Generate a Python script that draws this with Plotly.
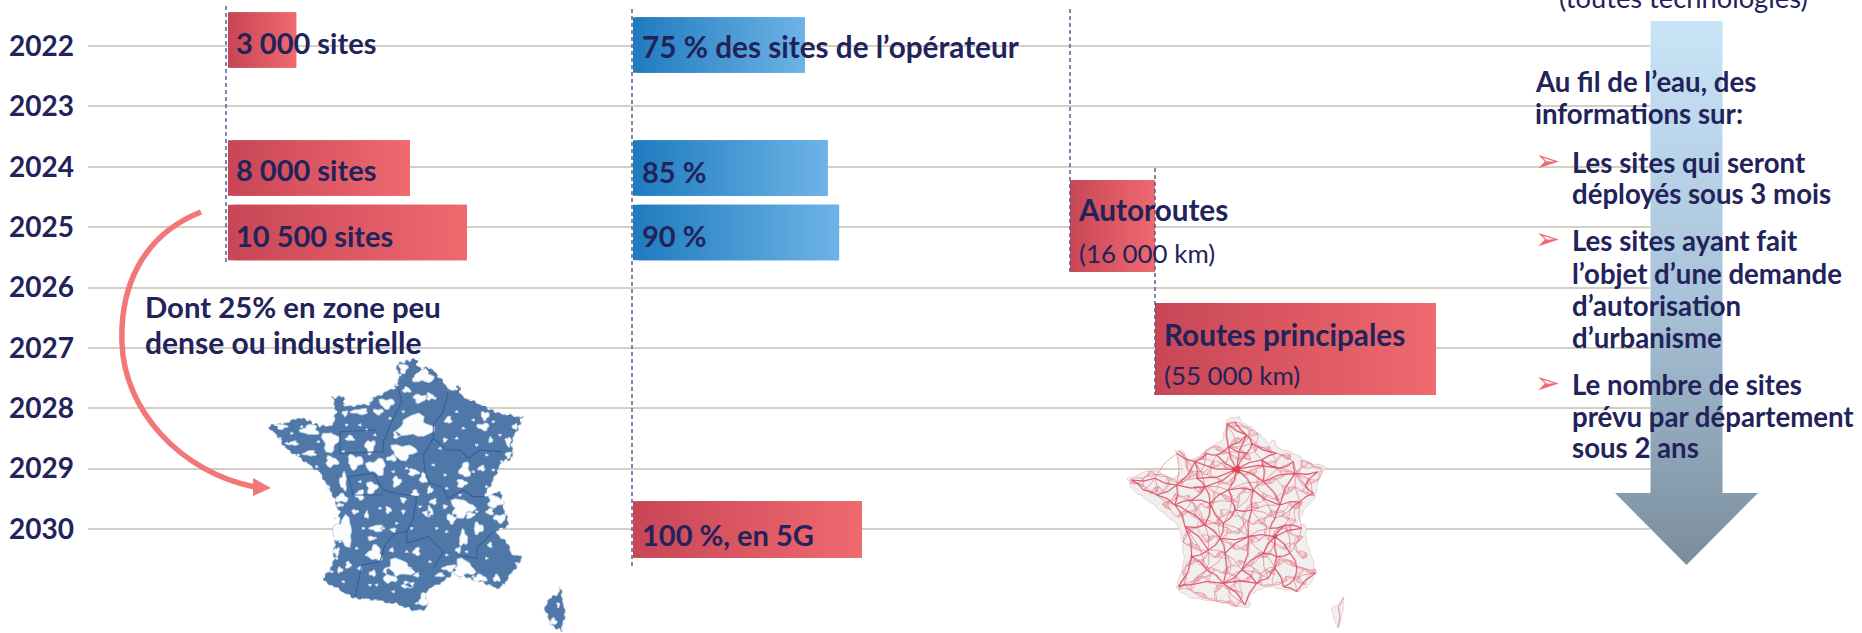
import math
import plotly.graph_objects as go

W, H = 1862, 633

# ---------- data ----------
years = [2022, 2023, 2024, 2025, 2026, 2027, 2028, 2029, 2030]
year_labels = [str(y) for y in years]

sites_values = [3000, 8000, 10500]
sites_labels = ["3 000 sites", "8 000 sites", "10 500 sites"]
share_values = [75, 85, 90]
share_labels = ["75 % des sites de l’opérateur", "85 %", "90 %"]
final_share_value = [100]
final_share_label = ["100 %, en 5G"]
motorway_km = [16000]
main_road_km = [55000]

side_title = "(toutes technologies)"
side_intro = ["Au fil de l’eau, des", "informations sur:"]
side_bullets = [
    ["Les sites qui seront", "déployés sous 3 mois"],
    ["Les sites ayant fait", "l’objet d’une demande", "d’autorisation", "d’urbanisme"],
    ["Le nombre de sites", "prévu par département", "sous 2 ans"],
]

# ---------- layout constants ----------
NAVY = "#22235a"
GRID = "#d5cfc3"
RED = ("#c84656", "#ef6a6f")
BLUE = ("#1f7bbf", "#6db3e6")
FONT = "Lato"
Y_TOP, Y_STEP = 46, 60.375
Y_RANGE = [2022 + (H - Y_TOP) / Y_STEP, 2022 - Y_TOP / Y_STEP]


def pxy(year_px):
    return 2022 + (year_px - Y_TOP) / Y_STEP


def mix(c0, c1, t):
    a = [int(c0[i:i + 2], 16) for i in (1, 3, 5)]
    b = [int(c1[i:i + 2], 16) for i in (1, 3, 5)]
    return "rgb(%d,%d,%d)" % tuple(round(p + (q - p) * t) for p, q in zip(a, b))


fig = go.Figure()
fig.add_trace(go.Scatter(x=[0], y=[years[0]], mode="none", hoverinfo="skip", showlegend=False, xaxis="x", yaxis="y"))


def grad_bar(axis, centre, value, width, colors, n=40):
    # each slice overlaps the next one, which paints over it: no seams
    step = value / n
    fig.add_trace(go.Bar(
        orientation="h", x=[min(2 * step, value - i * step) for i in range(n)], base=[i * step for i in range(n)],
        y=[centre] * n, width=width,
        marker=dict(color=[mix(colors[0], colors[1], (i + .5) / n) for i in range(n)], line=dict(width=0)),
        hoverinfo="skip", showlegend=False, xaxis=axis, yaxis="y2"))


for centre, v in zip([pxy(40), pxy(168), pxy(232.5)], sites_values):
    grad_bar("x2", centre, v, 0.92, RED)
for centre, v in zip([pxy(45), pxy(168), pxy(232.5)], share_values):
    grad_bar("x3", centre, v, 0.92, BLUE)
grad_bar("x3", pxy(529.5), final_share_value[0], 0.94, RED)
grad_bar("x4", pxy(226), motorway_km[0], 1.52, RED)
grad_bar("x5", pxy(349), main_road_km[0], 1.52, RED)

arrow_half, head_half = 36, 71.5
ay0, ay1, ay2 = pxy(21), pxy(493), pxy(565)
fig.add_trace(go.Scatter(
    x=[-arrow_half, arrow_half, arrow_half, head_half, 0, -head_half, -arrow_half, -arrow_half],
    y=[ay0, ay0, ay1, ay1, ay2, ay1, ay1, ay0],
    mode="lines", line=dict(width=0), fill="toself",
    fillgradient=dict(type="vertical", colorscale=[[0, "#7a8d9c"], [.5, "#a9c4da"], [1, "#c9e4f7"]]),
    hoverinfo="skip", showlegend=False, xaxis="x6", yaxis="y2"))

shapes = []


def P(x, y):
    return f"{x / W:.5f},{1 - y / H:.5f}"


def poly(points):
    return "M" + "L".join(P(x, y) for x, y in points) + "Z"


def add_path(path, fill=None, line=None, lw=0, opacity=1, dash=None):
    d = dict(type="path", xref="paper", yref="paper", path=path, layer="above", opacity=opacity,
             line=dict(color=line or "rgba(0,0,0,0)", width=lw))
    if dash:
        d["line"]["dash"] = dash
    if fill:
        d["fillcolor"] = fill
    shapes.append(d)


for x0, y0, y1 in [(226, 6, 262), (632, 9, 568), (1070, 9, 273), (1155, 168, 395)]:
    add_path("M" + P(x0, y0) + "L" + P(x0, y1), line="#5d5c8c", lw=1.5, dash="4px,3px")

add_path("M" + P(201, 212) + "C" + P(140, 236) + " " + P(120, 290) + " " + P(122, 343) +
         "C" + P(124, 410) + " " + P(180, 472) + " " + P(255, 487), line="#f27878", lw=5.5)
add_path(poly([(253, 478), (271, 488), (253, 496)]), fill="#f27878")


def ragged(points, amp=5):
    out = []
    n = len(points)
    for i, (x0, y0) in enumerate(points):
        x1, y1 = points[(i + 1) % n]
        dx, dy = x1 - x0, y1 - y0
        L = math.hypot(dx, dy) or 1
        s = amp * (1 if i % 2 else -1)
        out.append((x0, y0))
        out.append((x0 + dx * .33 - dy / L * s, y0 + dy * .33 + dx / L * s))
        out.append((x0 + dx * .66 + dy / L * s * .7, y0 + dy * .66 - dx / L * s * .7))
    return out


# ---------- blue map (hand-traced) ----------
bx = lambda p: [(260 + a / 3, 355 + b / 3) for a, b in p]
blue_outline = [(410,30),(440,15),(468,12),(475,35),(510,40),(550,75),(565,105),(585,105),(595,90),(605,120),(660,150),(700,165),(730,180),(790,185),(775,215),(760,250),(755,310),(730,320),(700,370),(675,425),(720,410),(730,440),(745,510),(710,530),(745,570),(755,595),(785,605),(770,640),(720,700),(680,690),(630,670),(590,650),(560,670),(500,710),(500,760),(460,770),(410,745),(330,735),(290,730),(250,715),(190,675),(215,630),(225,570),(235,510),(240,470),(215,420),(180,350),(130,320),(80,280),(50,245),(25,215),(60,205),(120,190),(150,195),(180,215),(215,210),(230,170),(215,125),(250,125),(255,150),(330,150),(340,125),(405,100),(415,70)]
blue_corsica = [(900,695),(910,740),(915,770),(905,830),(880,815),(850,760),(870,730),(895,715)]
blue_holes = [(490,65,30,18),(430,40,12,15),(440,105,12,8),(480,130,20,12),(510,125,12,10),(380,145,22,14),(355,170,15,8),(300,170,25,8),(255,175,8,8),(465,215,50,32),(410,240,10,10),(150,225,25,15),(65,215,15,8),(210,260,22,30),(100,265,15,6),(150,295,18,8),(215,320,18,15),(285,320,22,20),(330,275,14,20),(270,250,12,8),(430,290,35,22),(395,310,15,8),(350,335,28,22),(410,380,12,15),(460,352,15,10),(335,398,15,18),(490,370,10,15),(250,380,10,25),(245,430,18,12),(300,420,12,15),(465,415,10,10),(510,405,8,10),(430,435,8,8),(385,465,8,10),(250,530,28,40),(350,520,18,10),(335,550,12,6),(345,595,20,22),(400,525,8,6),(320,480,6,10),(285,470,10,6),(415,640,40,25),(390,665,18,20),(440,690,14,10),(265,630,8,10),(240,645,8,8),(338,655,10,8),(300,640,6,6),(470,590,10,12),(395,585,6,6),(490,735,12,20),(615,345,15,22),(605,385,14,12),(665,340,10,8),(565,195,10,10),(675,182,12,12),(670,215,18,10),(692,255,6,8),(745,260,8,14),(745,300,8,10),(765,215,8,8),(555,255,6,6),(605,460,32,28),(575,490,14,14),(630,480,12,10),(555,455,6,6),(520,440,10,8),(510,470,8,15),(500,475,10,8),(705,440,22,18),(720,490,18,12),(690,470,10,10),(655,520,14,16),(610,550,12,22),(595,585,8,8),(690,570,6,8),(610,640,30,25),(570,640,20,10),(660,670,20,10),(710,670,10,10),(540,660,12,6),(470,660,8,6),(240,450,10,5),(230,590,8,12),(450,690,12,8),(430,470,5,6),(880,800,10,10),(895,750,4,8)]
blue_specks = [(95,235),(125,215),(60,250),(175,260),(260,210),(300,210),(320,225),(250,290),(345,240),(390,190),(430,170),(525,130),(590,170),(610,220),(640,195),(700,200),(720,240),(650,270),(590,250),(540,280),(520,330),(555,360),(640,350),(680,300),(700,345),(725,320),(440,340),(400,350),(300,380),(360,460),(410,505),(480,455),(455,520),(530,520),(560,530),(650,470),(680,395),(600,420),(560,400),(310,520),(290,580),(370,520),(320,600),(440,590),(510,620),(560,600),(620,590),(680,610),(250,680),(215,650),(330,690),(400,710),(450,640),(350,690),(470,745),(770,625),(730,690),(600,670),(640,665),(240,560),(230,610),(225,490),(205,400),(170,335),(115,300),(80,265),(255,150),(335,130),(410,90),(420,60)]
blue_borders = [
    [(520,250),(560,285),(600,285),(625,310),(660,285),(725,290)],
    [(565,110),(550,170),(520,210),(520,250),(490,300),(495,350),(510,385),(545,395),(565,430),(610,405),(640,425),(675,425)],
    [(265,365),(340,355),(370,405),(410,415),(470,425),(460,490),(440,530),(405,535),(375,570)],
    [(265,365),(280,420),(370,420)],
    [(375,570),(360,620),(305,630),(295,680),(285,725)],
    [(440,530),(440,565),(505,545),(550,590),(520,640)],
    [(650,580),(700,530)], [(650,580),(650,610),(590,600)],
    [(415,100),(425,140),(400,190),(370,260),(370,290),(240,295),(240,230),(350,225)],
]
blue_main = poly(bx(ragged(blue_outline, 4))) + poly(bx(ragged(blue_corsica, 3)))
add_path(blue_main, fill="#4f78a8", line="#88a4c4", lw=1)


def blob(x, y, rx, ry, grow=1.0):
    pts = []
    for k in range(18):
        t = 2 * math.pi * k / 18
        f = 1 + .25 * math.sin(3 * t + x) + .15 * math.sin(5 * t + y)
        pts.append((x + grow * rx * f * math.cos(t), y + grow * ry * f * math.sin(t)))
    return pts


add_path("".join(poly(bx(blob(*h))) for h in blue_holes), fill="#fbfcfe", line="#b9cde2", lw=.9)
add_path("".join(poly(bx(blob(x, y, 5, 4))) for x, y in blue_specks), fill="#dfe8f2")
add_path("".join("M" + "L".join(P(*q) for q in bx(b)) for b in blue_borders), line="#2f5c98", lw=1.1, opacity=.85)
add_path(blue_main, line="#ffffff", lw=1.3, dash="3px,4px")

# ---------- red map (hand-traced) ----------
rx_ = lambda p: [(1120 + a / 3, 410 + b / 3) for a, b in p]
red_outline = [(320,30),(360,18),(365,40),(395,50),(430,85),(445,100),(462,90),(470,110),(530,135),(560,155),(615,170),(600,200),(590,230),(585,265),(550,300),(530,345),(555,345),(560,390),(570,430),(590,490),(570,520),(540,545),(480,535),(450,530),(410,540),(385,560),(390,590),(350,590),(280,570),(210,565),(170,535),(190,460),(190,400),(175,350),(135,310),(80,270),(40,240),(20,205),(95,180),(160,205),(190,180),(165,120),(190,125),(195,150),(250,140),(255,120),(310,90)]
red_corsica = [(670,560),(670,600),(655,655),(640,625),(635,595),(660,580)]
N = dict(PA=(350,178),LI=(380,75),AM=(325,110),DK=(345,35),CL=(322,40),LH=(260,130),CA=(225,155),RO=(290,135),RE=(425,150),CH=(470,130),ME=(520,155),NA=(525,190),ST=(595,185),MU=(580,250),EP=(555,225),TR=(430,215),DI=(480,285),BE=(540,275),OR=(325,240),LM=(255,230),RN=(170,225),BR=(35,210),SB=(105,205),VA=(110,255),LO=(70,240),NT=(165,285),AN=(215,270),TO=(270,280),PO=(255,345),BO=(345,300),CF=(385,380),LY=(465,380),GR=(510,430),VL=(470,440),LG=(300,385),LR=(195,350),BX=(215,440),TL=(310,520),BY=(175,530),PU=(210,525),MP=(410,520),NI=(445,505),MS=(490,530),TN=(530,545),NC=(585,490),PP=(375,585),NV=(395,300),CN=(465,325),BV=(315,430),RZ=(365,480),AG=(260,480),GE=(545,355),DO=(510,300),VZ=(335,275),PG=(265,420),AX=(400,240),CB=(170,130),AL=(230,205),CT=(380,130),SQ=(395,100),VE=(480,175),LP=(430,430),GP=(530,470),AV=(465,475),AI=(520,510),SE=(310,340),NO=(195,300),LN=(450,355),AR=(495,345))
main_roads = "PA-LI PA-AM PA-RO PA-CA PA-AL PA-LM PA-OR PA-AX PA-TR PA-RE PA-CT PA-VE LI-DK LI-CL LI-AM LI-SQ AM-CL AM-RO RO-LH LH-CA CA-CB CA-RN CA-AL AL-LM LM-RN LM-AN LM-TO RN-SB SB-BR BR-LO LO-VA VA-NT RN-VA RN-NT NT-AN AN-TO TO-OR OR-VZ VZ-BO TO-PO PO-LR PO-LG NT-LR NT-NO NO-PO LR-BX LG-PG PG-BX LG-BV BV-TL BX-AG AG-TL BX-BY BY-PU PU-TL TL-MP TL-PP PP-MP MP-NI NI-AV AV-MS MS-TN TN-NC AV-VL VL-LY LY-GR GR-VL GR-GP GP-AI AI-MS LY-GE LY-AR AR-LN LN-CN CN-DI DI-AX DI-BE BE-MU MU-EP EP-ST ST-NA NA-ME ME-VE VE-RE RE-CH CH-SQ SQ-CT CT-AM RE-TR TR-DI TR-NA DI-NA DO-BE CF-LY CF-NV NV-BO BO-SE SE-LG NV-AX CF-LG CF-RZ RZ-TL RZ-MP RZ-LP LP-LY LP-VL BV-CF SE-TO OR-AX AR-GE LR-PG".split()
minor_roads = "SB-VA SB-LO SB-CB RN-AL AN-NO AN-PO LM-OR TO-VZ VZ-SE NV-CN NV-DI AX-TR AX-CN BO-CF SE-CF LG-AN PG-AG PG-BV AG-BY AG-PU BV-RZ BV-AG LP-RZ LP-CF LP-AV RZ-NI CF-LN LN-LP AR-GR GE-GR GE-BE DO-CN DO-AR BE-NA MU-NA EP-NA EP-ME TR-ME CH-ME VE-NA RE-SQ CH-LI RO-CT AM-CT LH-AL RO-AL CA-LM CB-RN OR-BO OR-TR AX-BO VL-AV VL-GP AI-TN AI-NC GP-NC MP-AV NI-LP TL-RZ PU-AG PP-TL DK-CL SQ-AM LN-NV PO-SE PO-PG LR-AG NT-VA TO-LG".split()
add_path(poly(rx_(ragged(red_outline, 3))) + poly(rx_(ragged(red_corsica, 2))), fill="#f0eeef", line="#e6c9cd", lw=.8)


def inside(pt, ring):
    x, y = pt
    c = False
    for i in range(len(ring)):
        x0, y0 = ring[i]
        x1, y1 = ring[(i + 1) % len(ring)]
        if (y0 > y) != (y1 > y) and x < (x1 - x0) * (y - y0) / (y1 - y0) + x0:
            c = not c
    return c


towns = []
for j in range(0, 24):
    for i in range(0, 26):
        q = (26 + i * 24 + (j % 2) * 12 + 7 * math.sin(i * 2.3 + j * 1.7), 30 + j * 24.5 + 7 * math.sin(i * 1.1 + j * 2.9))
        if inside(q, red_outline):
            towns.append(q)
fine = ""
for a, t in enumerate(towns):
    near = sorted((b for b in range(len(towns)) if b != a), key=lambda b: math.dist(t, towns[b]))[:3]
    for b in near:
        u = towns[b]
        mx, my = (t[0] + u[0]) / 2 + (u[1] - t[1]) * .12, (t[1] + u[1]) / 2 - (u[0] - t[0]) * .12
        fine += "M" + "L".join(P(*q) for q in rx_([t, (mx, my), u]))
add_path(fine, line="#e5828f", lw=.8, opacity=.75)


def road_path(edges, shift=0):
    out = ""
    for e in edges:
        a, b = e.split("-")
        (x0, y0), (x1, y1) = N[a], N[b]
        mx, my = (x0 + x1) / 2 + (y1 - y0) * .08 + shift, (y0 + y1) / 2 - (x1 - x0) * .08
        out += "M" + "L".join(P(*q) for q in rx_([(x0, y0), (mx, my), (x1, y1)]))
    return out


add_path(road_path(minor_roads), line="#de6b7a", lw=.8, opacity=.75)
add_path(road_path(main_roads, 4), line="#e58591", lw=.8, opacity=.8)
add_path(road_path(main_roads), line="#dc3f52", lw=1.1, opacity=.75)
add_path(poly(rx_(blob(350, 178, 13, 11))) + poly(rx_(blob(465, 380, 7, 7))) + poly(rx_(blob(215, 440, 4, 4))),
         fill="#dc3f52", opacity=.85)
add_path("M" + "L".join(P(*q) for q in rx_([(670,565),(655,590),(660,620),(655,650)])), line="#dc3f52", lw=.8, opacity=.7)

# ---------- text ----------
ann = []


def label(text, x, y, size=29.7, bold=True, color=NAVY, family=FONT, anchor="left"):
    ann.append(dict(xref="paper", yref="paper", x=x / W, y=1 - y / H, text=text, showarrow=False,
                    xanchor=anchor, yanchor="middle", borderpad=0,
                    font=dict(family=family, size=size, color=color, weight=700 if bold else 400)))


for t, y in zip(sites_labels, [43, 170, 236]):
    label(t, 235, y, 29)
label(share_labels[0], 641, 47)
for t, y in zip(share_labels[1:], [171, 236]):
    label(t, 641, y, 29)
label(final_share_label[0], 641, 534, 29)
label("Autoroutes", 1077, 209)
label("(16 000 km)", 1078, 253, 25.9, False)
label("Routes principales", 1163, 334)
label("(55 000 km)", 1163, 375, 25.9, False)
label("Dont 25% en zone peu", 144, 306, 29.3)
label("dense ou industrielle", 144, 342, 30)
label(side_title, 1558, -3, 27.3, False)

side_size = 27.6
for t, y in zip(side_intro, [82, 114]):
    label(t, 1534, y, side_size)
for lines, ys in zip(side_bullets, [[162, 193], [241, 273.5, 305, 337], [384, 416, 447]]):
    label("➢", 1534, ys[0] - 2, 30, False, "#ef6a6f", "DejaVu Sans")
    for t, y in zip(lines, ys):
        label(t, 1571, y, side_size)

hidden = dict(visible=False, fixedrange=True)
fig.update_layout(
    width=W, height=H, margin=dict(l=0, r=0, t=0, b=0, pad=0),
    paper_bgcolor="white", plot_bgcolor="rgba(0,0,0,0)", barmode="overlay", showlegend=False,
    shapes=shapes, annotations=ann,
    xaxis=dict(domain=[88 / W, 1650 / W], range=[0, 1], anchor="y", **hidden),
    yaxis=dict(domain=[0, 1], range=Y_RANGE, anchor="x", tickmode="array", tickvals=years, ticktext=year_labels,
               showgrid=True, gridcolor=GRID, gridwidth=1.5, zeroline=False, showline=False, ticks="",
               ticklabelstandoff=13, fixedrange=True,
               tickfont=dict(family=FONT, size=28, color=NAVY, weight=700)),
    yaxis2=dict(domain=[0, 1], range=Y_RANGE, anchor="x2", **hidden),
    xaxis2=dict(domain=[228 / W, 501 / W], range=[0, 12000], anchor="y2", **hidden),
    xaxis3=dict(domain=[633 / W, 862 / W], range=[0, 100], anchor="y2", **hidden),
    xaxis4=dict(domain=[1070 / W, 1155 / W], range=[0, 16000], anchor="y2", **hidden),
    xaxis5=dict(domain=[1155 / W, 1436 / W], range=[0, 55000], anchor="y2", **hidden),
    xaxis6=dict(domain=[1615 / W, 1758 / W], range=[-head_half, head_half], anchor="y2", **hidden),
)

fig.write_html("out.html", config=dict(displayModeBar=False),
               post_script="document.body.style.margin='0';document.body.style.overflow='hidden';")
